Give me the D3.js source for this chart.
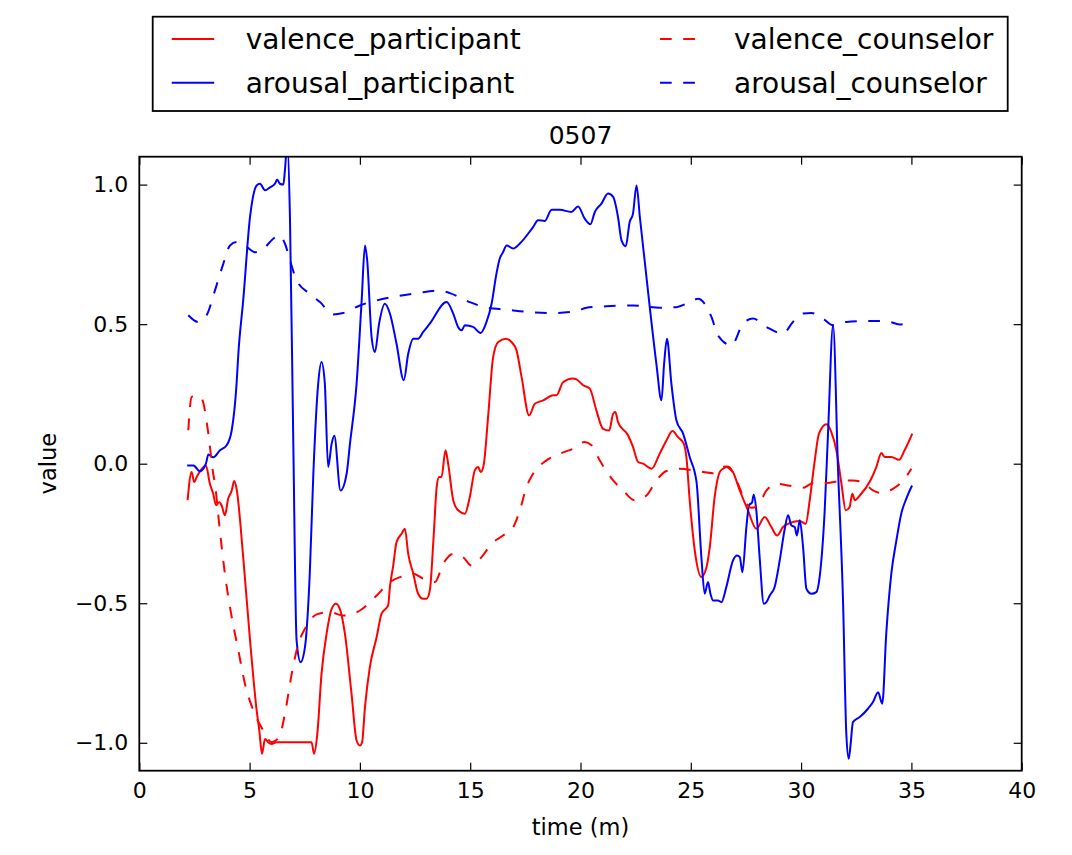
<!DOCTYPE html>
<html>
<head>
<meta charset="utf-8">
<script src="https://cdn.jsdelivr.net/npm/d3@7"></script>
<style>
  body { margin: 0; background: #fff; }
  text { font-family: "DejaVu Sans", sans-serif; fill: #000; }
</style>
</head>
<body>
<div id="chart"></div>
<script>
//////////
// Data //
//////////

const chartTitle = "0507";
const xTicks = [0, 5, 10, 15, 20, 25, 30, 35, 40];
const yTicks = [-1.0, -0.5, 0.0, 0.5, 1.0];
const seriesNames = ["valence_participant", "arousal_participant", "valence_counselor", "arousal_counselor"];

// [time (m), value]
const valenceParticipant = [[2.19,-0.131],[2.37,-0.03],[2.49,-0.066],[2.60,-0.048],[2.78,-0.024],[3.02,-0.006],[3.20,-0.072],[3.35,-0.108],[3.48,-0.149],[3.62,-0.138],[3.73,-0.149],[3.88,-0.185],[4.03,-0.125],[4.19,-0.096],[4.30,-0.062],[4.41,-0.09],[4.71,-0.335],[5.02,-0.633],[5.32,-0.884],[5.44,-0.956],[5.56,-1.039],[5.70,-0.986],[5.84,-0.998],[6.0,-1.004],[6.22,-0.998],[7.81,-0.998],[7.92,-1.039],[8.07,-0.968],[8.26,-0.753],[8.49,-0.609],[8.72,-0.52],[8.91,-0.502],[9.09,-0.52],[9.32,-0.609],[9.62,-0.824],[9.85,-0.992],[10.0,-1.01],[10.10,-0.998],[10.23,-0.872],[10.45,-0.729],[10.76,-0.621],[10.98,-0.538],[11.28,-0.508],[11.36,-0.442],[11.51,-0.365],[11.66,-0.281],[11.89,-0.251],[12.04,-0.233],[12.19,-0.323],[12.42,-0.394],[12.64,-0.466],[12.87,-0.484],[13.02,-0.484],[13.17,-0.454],[13.35,-0.251],[13.48,-0.084],[13.59,-0.048],[13.70,-0.048],[13.88,0.048],[14.0,0.0],[14.23,-0.131],[14.45,-0.167],[14.76,-0.179],[14.98,-0.12],[15.21,-0.024],[15.36,-0.012],[15.48,-0.03],[15.62,0.0],[15.81,0.167],[16.04,0.382],[16.27,0.436],[16.62,0.448],[16.87,0.436],[17.10,0.406],[17.33,0.31],[17.67,0.173],[17.93,0.215],[18.31,0.227],[18.76,0.245],[18.91,0.245],[19.21,0.292],[19.64,0.305],[19.82,0.302],[20.12,0.281],[20.42,0.269],[20.72,0.191],[21.02,0.125],[21.30,0.119],[21.48,0.179],[21.58,0.185],[21.70,0.149],[22.16,0.101],[22.38,0.06],[22.61,0.006],[22.84,0.0],[23.22,-0.018],[23.59,0.036],[23.90,0.084],[24.17,0.117],[24.42,0.095],[24.68,0.072],[24.80,0.024],[24.95,-0.131],[25.18,-0.311],[25.48,-0.406],[25.71,-0.371],[25.86,-0.299],[26.08,-0.12],[26.31,-0.03],[26.46,-0.018],[26.69,-0.01],[26.91,-0.03],[27.22,-0.096],[27.59,-0.167],[27.97,-0.233],[28.35,-0.191],[28.65,-0.227],[28.91,-0.257],[29.18,-0.227],[29.48,-0.213],[29.94,-0.205],[30.21,-0.215],[30.39,-0.131],[30.62,0.012],[30.81,0.108],[31.15,0.141],[31.37,0.113],[31.60,0.048],[31.83,-0.072],[32.02,-0.167],[32.20,-0.155],[32.32,-0.108],[32.44,-0.131],[32.66,-0.114],[33.14,-0.06],[33.41,-0.012],[33.64,0.038],[33.79,0.024],[34.09,0.024],[34.44,0.014],[34.69,0.048],[35.04,0.108]];

const arousalParticipant = [[2.17,-0.006],[2.45,-0.006],[2.75,-0.027],[3.02,0.0],[3.13,0.033],[3.35,0.023],[3.66,0.048],[3.96,0.066],[4.19,0.12],[4.41,0.287],[4.49,0.394],[4.71,0.585],[5.02,0.884],[5.32,0.997],[5.47,1.003],[5.70,0.98],[5.92,0.99],[6.15,1.003],[6.25,1.018],[6.37,1.003],[6.53,1.0],[6.60,1.05],[6.71,1.15],[6.83,0.88],[6.98,0.08],[7.13,-0.633],[7.31,-0.711],[7.51,-0.657],[7.73,-0.39],[7.89,-0.035],[8.11,0.287],[8.26,0.364],[8.41,0.287],[8.56,-0.012],[8.72,0.072],[8.84,0.10],[9.12,-0.096],[9.40,-0.035],[9.55,0.072],[9.85,0.287],[10.08,0.585],[10.23,0.782],[10.33,0.729],[10.53,0.454],[10.68,0.40],[10.87,0.502],[11.13,0.573],[11.36,0.538],[11.66,0.43],[11.99,0.299],[12.19,0.394],[12.42,0.448],[12.64,0.448],[12.87,0.472],[13.17,0.502],[13.93,0.579],[14.23,0.538],[14.45,0.49],[14.61,0.478],[14.76,0.496],[15.13,0.49],[15.47,0.468],[15.74,0.508],[15.97,0.573],[16.19,0.681],[16.34,0.735],[16.49,0.758],[16.65,0.782],[16.95,0.771],[17.25,0.789],[17.85,0.848],[18.08,0.872],[18.38,0.87],[18.69,0.91],[19.06,0.91],[19.59,0.902],[19.89,0.922],[20.19,0.878],[20.45,0.858],[20.65,0.902],[20.95,0.932],[21.25,0.968],[21.48,0.956],[21.70,0.884],[21.86,0.80],[22.05,0.779],[22.23,0.866],[22.38,0.896],[22.54,0.997],[22.69,0.884],[23.14,0.561],[23.44,0.358],[23.67,0.227],[23.79,0.358],[23.92,0.448],[24.12,0.287],[24.35,0.155],[24.65,0.108],[24.95,0.024],[25.26,-0.066],[25.48,-0.335],[25.63,-0.466],[25.78,-0.424],[25.89,-0.466],[26.01,-0.49],[26.23,-0.49],[26.39,-0.496],[26.61,-0.442],[26.91,-0.347],[27.10,-0.329],[27.22,-0.335],[27.34,-0.389],[27.52,-0.227],[27.64,-0.149],[27.78,-0.138],[27.85,-0.111],[27.97,-0.167],[28.12,-0.335],[28.31,-0.502],[28.43,-0.496],[28.58,-0.472],[28.80,-0.442],[29.03,-0.347],[29.26,-0.233],[29.41,-0.185],[29.56,-0.221],[29.71,-0.227],[29.81,-0.257],[29.94,-0.203],[30.09,-0.299],[30.24,-0.448],[30.47,-0.466],[30.69,-0.46],[30.84,-0.406],[31.07,-0.167],[31.22,0.108],[31.45,0.496],[31.67,-0.012],[31.90,-0.49],[32.05,-0.968],[32.16,-1.057],[32.25,-1.0],[32.35,-0.926],[32.66,-0.908],[33.03,-0.878],[33.26,-0.854],[33.49,-0.819],[33.68,-0.86],[33.86,-0.609],[34.09,-0.394],[34.32,-0.275],[34.54,-0.179],[34.77,-0.125],[35.03,-0.078]];

const valenceCounselor = [[2.22,0.12],[2.37,0.239],[2.60,0.245],[2.83,0.233],[3.13,0.108],[3.35,-0.036],[3.43,-0.072],[3.62,-0.215],[3.88,-0.394],[4.19,-0.55],[4.49,-0.669],[4.79,-0.789],[5.17,-0.884],[5.62,-0.956],[6.0,-0.998],[6.34,-0.98],[6.60,-0.896],[6.91,-0.753],[7.21,-0.645],[7.51,-0.591],[8.04,-0.54],[8.64,-0.532],[9.24,-0.544],[10.0,-0.526],[10.76,-0.472],[11.36,-0.424],[11.89,-0.404],[12.42,-0.394],[12.87,-0.412],[13.40,-0.424],[13.78,-0.358],[14.23,-0.323],[14.68,-0.335],[15.06,-0.365],[15.51,-0.335],[15.97,-0.287],[16.49,-0.257],[16.95,-0.227],[17.25,-0.167],[17.55,-0.084],[17.85,-0.036],[18.46,0.012],[19.06,0.036],[19.67,0.054],[20.19,0.078],[20.50,0.066],[20.87,0.012],[21.48,-0.06],[21.93,-0.096],[22.46,-0.131],[22.99,-0.114],[23.44,-0.06],[23.90,-0.026],[24.50,-0.018],[25.26,-0.026],[25.56,-0.03],[26.01,-0.034],[26.54,-0.01],[26.84,-0.024],[27.14,-0.072],[27.44,-0.131],[27.75,-0.158],[28.05,-0.149],[28.43,-0.096],[28.88,-0.072],[29.41,-0.078],[30.09,-0.086],[30.54,-0.069],[31.15,-0.069],[31.75,-0.062],[32.35,-0.06],[32.80,-0.066],[33.26,-0.096],[33.64,-0.105],[34.16,-0.09],[34.62,-0.06],[35.0,-0.018]];

const arousalCounselor = [[2.22,0.532],[2.67,0.508],[3.05,0.532],[3.43,0.621],[3.81,0.717],[4.11,0.782],[4.41,0.794],[4.87,0.776],[5.24,0.758],[5.70,0.776],[6.07,0.806],[6.34,0.818],[6.60,0.789],[6.83,0.729],[7.13,0.657],[7.73,0.609],[8.19,0.579],[8.79,0.535],[9.24,0.54],[10.0,0.567],[10.76,0.585],[11.66,0.60],[12.57,0.611],[13.62,0.621],[14.08,0.611],[14.98,0.579],[15.74,0.559],[16.65,0.552],[17.70,0.543],[18.76,0.54],[19.82,0.547],[20.27,0.559],[21.18,0.564],[22.38,0.567],[23.59,0.559],[24.35,0.561],[24.95,0.579],[25.33,0.591],[25.63,0.573],[25.94,0.525],[26.23,0.46],[26.84,0.424],[27.37,0.502],[27.82,0.52],[28.43,0.49],[29.18,0.466],[29.63,0.508],[30.09,0.538],[30.47,0.54],[30.99,0.52],[31.45,0.496],[32.05,0.508],[32.96,0.511],[33.86,0.511],[34.47,0.499],[35.03,0.508]];

///////////
// Setup //
///////////

const width = 1072, height = 855;
const plot = {left: 139.3, right: 1021.7, top: 156.7, bottom: 770.7};

const xScale = d3.scaleLinear().domain([0, 40]).range([plot.left, plot.right]);
const yScale = d3.scaleLinear().domain([-1.1, 1.1]).range([plot.bottom, plot.top]);

const series = [
  {name: seriesNames[0], values: valenceParticipant, color: "#ff0000", dash: null},
  {name: seriesNames[1], values: arousalParticipant, color: "#0000ff", dash: null},
  {name: seriesNames[2], values: valenceCounselor, color: "#ff0000", dash: "11.7,11.5"},
  {name: seriesNames[3], values: arousalCounselor, color: "#0000ff", dash: "11.7,11.5"}
];

const svg = d3.select("#chart").append("svg")
    .attr("width", width)
    .attr("height", height);

svg.append("defs").append("clipPath").attr("id", "clip")
  .append("rect")
    .attr("x", plot.left).attr("y", plot.top)
    .attr("width", plot.right - plot.left).attr("height", plot.bottom - plot.top);

///////////
// Lines //
///////////

const line = d3.line()
    .x(d => xScale(d[0]))
    .y(d => yScale(d[1]))
    .curve(d3.curveMonotoneX);

svg.append("g").attr("clip-path", "url(#clip)")
  .selectAll("path")
  .data(series)
  .enter().append("path")
    .attr("d", d => line(d.values))
    .attr("fill", "none")
    .attr("stroke", d => d.color)
    .attr("stroke-width", 2)
    .attr("stroke-dasharray", d => d.dash)
    .attr("stroke-linejoin", "round");

//////////
// Axes //
//////////

const tickLen = 8;
const styleAxis = g => {
  g.select(".domain").remove();
  g.selectAll(".tick line").attr("stroke", "#000").attr("stroke-width", 1.2);
  g.selectAll(".tick text").style("font-size", "22px").attr("fill", "#000");
};

svg.append("g")
    .attr("transform", "translate(0," + plot.bottom + ")")
    .call(d3.axisBottom(xScale).tickValues(xTicks).tickFormat(d3.format("d"))
      .tickSizeInner(-tickLen).tickSizeOuter(0).tickPadding(12))
    .call(styleAxis);

svg.append("g")
    .attr("transform", "translate(0," + plot.top + ")")
    .call(d3.axisTop(xScale).tickValues(xTicks).tickFormat("")
      .tickSizeInner(-tickLen).tickSizeOuter(0))
    .call(styleAxis);

svg.append("g")
    .attr("transform", "translate(" + plot.left + ",0)")
    .call(d3.axisLeft(yScale).tickValues(yTicks).tickFormat(d3.format(".1f"))
      .tickSizeInner(-tickLen).tickSizeOuter(0).tickPadding(11))
    .call(styleAxis);

svg.append("g")
    .attr("transform", "translate(" + plot.right + ",0)")
    .call(d3.axisRight(yScale).tickValues(yTicks).tickFormat("")
      .tickSizeInner(-tickLen).tickSizeOuter(0))
    .call(styleAxis);

// frame
svg.append("rect")
    .attr("x", plot.left).attr("y", plot.top)
    .attr("width", plot.right - plot.left).attr("height", plot.bottom - plot.top)
    .attr("fill", "none")
    .attr("stroke", "#000")
    .attr("stroke-width", 1.8);

////////////
// Labels //
////////////

svg.append("text")
    .attr("x", (plot.left + plot.right) / 2).attr("y", 144)
    .attr("text-anchor", "middle")
    .style("font-size", "25px")
    .text(chartTitle);

svg.append("text")
    .attr("x", (plot.left + plot.right) / 2).attr("y", 835)
    .attr("text-anchor", "middle")
    .style("font-size", "22.5px")
    .text("time (m)");

svg.append("text")
    .attr("transform", "translate(56," + ((plot.top + plot.bottom) / 2) + ") rotate(-90)")
    .attr("text-anchor", "middle")
    .style("font-size", "22.5px")
    .text("value");

////////////
// Legend //
////////////

const legend = svg.append("g");

legend.append("rect")
    .attr("x", 152.7).attr("y", 16.7)
    .attr("width", 855).attr("height", 94.3)
    .attr("fill", "#fff")
    .attr("stroke", "#000")
    .attr("stroke-width", 1.8);

const colX = [171.7, 660];
const rowY = [39, 82.7];

const item = legend.selectAll(".item")
  .data(series)
  .enter().append("g")
    .attr("class", "item")
    .attr("transform", (d, i) => "translate(" + colX[Math.floor(i / 2)] + "," + rowY[i % 2] + ")");

item.append("line")
    .attr("x1", 0).attr("x2", 42.5)
    .attr("y1", 0).attr("y2", 0)
    .attr("stroke", d => d.color)
    .attr("stroke-width", 2)
    .attr("stroke-dasharray", d => d.dash);

item.append("text")
    .attr("x", 74).attr("y", 10)
    .style("font-size", "28px")
    .text(d => d.name);
</script>
</body>
</html>
